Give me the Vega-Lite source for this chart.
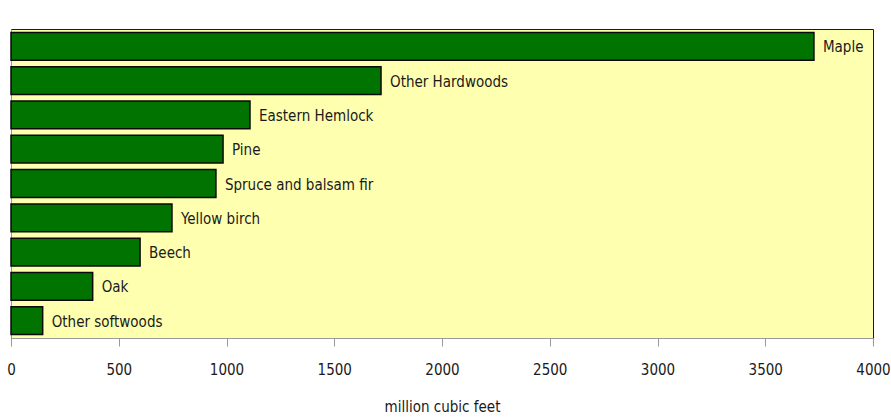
{
  "$schema": "https://vega.github.io/schema/vega-lite/v6.json",
  "width": 862,
  "height": 309,
  "autosize": {"type": "none"},
  "padding": {"left": 11, "top": 29, "right": 18, "bottom": 81},
  "background": "white",
  "data": {"values": [
    {"species": "Maple", "volume": 3726},
    {"species": "Other Hardwoods", "volume": 1717},
    {"species": "Eastern Hemlock", "volume": 1109},
    {"species": "Pine", "volume": 984},
    {"species": "Spruce and balsam fir", "volume": 951},
    {"species": "Yellow birch", "volume": 747},
    {"species": "Beech", "volume": 599},
    {"species": "Oak", "volume": 379},
    {"species": "Other softwoods", "volume": 147}
  ]},
  "encoding": {
    "y": {"field": "species", "type": "nominal", "sort": null,
      "scale": {"paddingInner": 0.19, "paddingOuter": 0.1},
      "axis": {"labels": false, "ticks": false, "title": null, "domainColor": "#999999", "domainWidth": 1}},
    "x": {"field": "volume", "type": "quantitative",
      "scale": {"domain": [0, 4000], "nice": false},
      "axis": {"values": [0, 500, 1000, 1500, 2000, 2500, 3000, 3500, 4000], "format": "d",
        "grid": false, "title": "million cubic feet", "domainColor": "#999999",
        "tickColor": "#999999", "tickSize": 8, "labelPadding": 16,
        "labelFont": "DejaVu Sans Condensed", "labelFontSize": 15, "labelColor": "#1a1a1a",
        "labelFlush": false,
        "titleFont": "DejaVu Sans Condensed", "titleFontSize": 15, "titleFontWeight": "normal",
        "titleColor": "#1a1a1a", "titlePadding": 22}}
  },
  "layer": [
    {"mark": {"type": "bar", "fill": "#007300", "stroke": "#0a0a0a", "strokeWidth": 1.5}},
    {"mark": {"type": "text", "align": "left", "baseline": "middle", "dx": 9, "dy": 1,
      "font": "DejaVu Sans Condensed", "fontSize": 15, "color": "#1a1a1a"},
     "encoding": {"text": {"field": "species"}}}
  ],
  "config": {
    "view": {"fill": "#FFFFB0", "stroke": "#1a1a1a", "strokeWidth": 1}
  }
}
